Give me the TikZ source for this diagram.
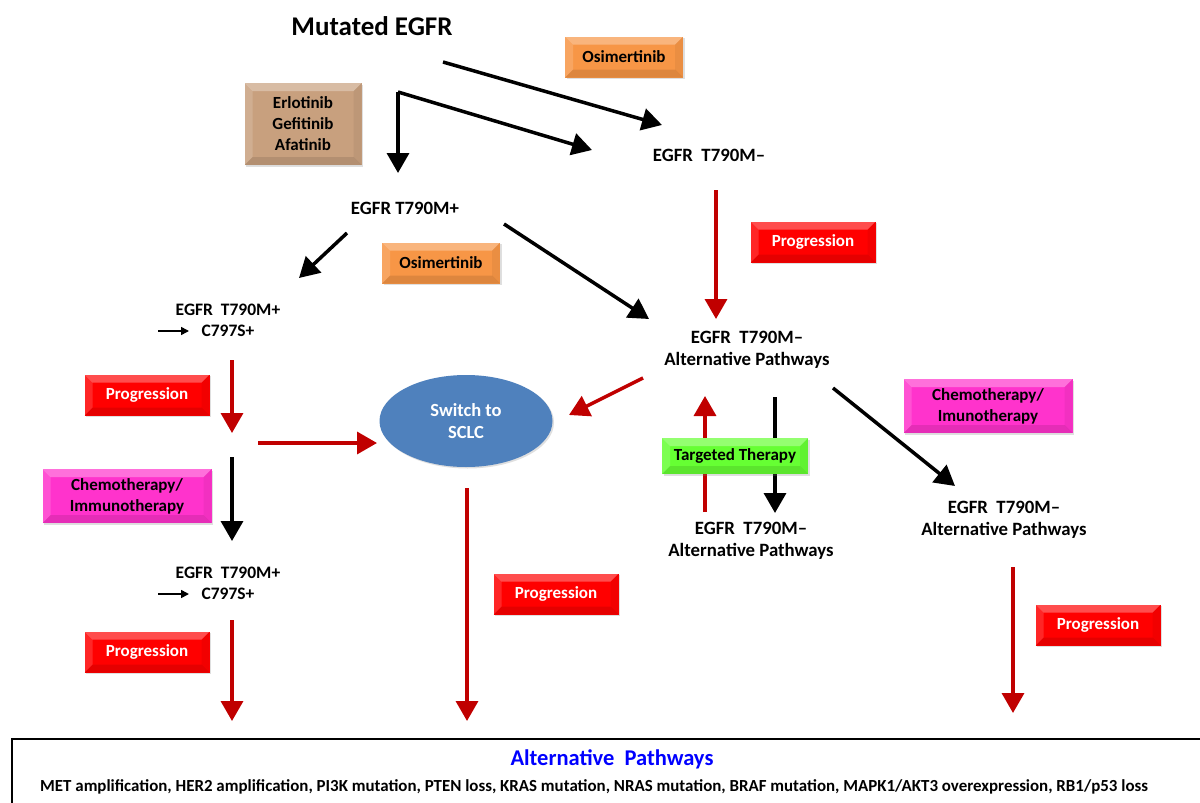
\documentclass[tikz,border=0pt]{standalone}
\usepackage{fontspec}
\setmainfont{Carlito}
\usetikzlibrary{arrows.meta,shapes.geometric,shadows}
\definecolor{arred}{HTML}{C00000}
\definecolor{boxred}{HTML}{FF0000}
\definecolor{boxorange}{HTML}{F79646}
\definecolor{boxtan}{HTML}{C8A07E}
\definecolor{boxmag}{HTML}{FF33CC}
\definecolor{boxgreen}{HTML}{66FF33}
\definecolor{sclc}{HTML}{4F81BD}
\tikzset{
  lbl/.style={font=\bfseries\fontsize{18.8}{22}\selectfont, align=center, inner sep=0pt},
  lbls/.style={font=\bfseries\fontsize{17.5}{21}\selectfont, align=center, inner sep=0pt},
  bevelfx/.style={path picture={
    \path (path picture bounding box.north west) coordinate (pNW)
          (path picture bounding box.north east) coordinate (pNE)
          (path picture bounding box.south west) coordinate (pSW)
          (path picture bounding box.south east) coordinate (pSE);
    \fill[white,opacity=.3] (pNW) -- (pNE) -- ([xshift=-8pt,yshift=-8pt]pNE) -- ([xshift=8pt,yshift=-8pt]pNW) -- cycle;
    \fill[white,opacity=.15] (pNW) -- ([xshift=8pt,yshift=-8pt]pNW) -- ([xshift=8pt,yshift=8pt]pSW) -- (pSW) -- cycle;
    \fill[black,opacity=.1] (pSW) -- ([xshift=8pt,yshift=8pt]pSW) -- ([xshift=-8pt,yshift=8pt]pSE) -- (pSE) -- cycle;
    \fill[black,opacity=.05] (pNE) -- (pSE) -- ([xshift=-8pt,yshift=8pt]pSE) -- ([xshift=-8pt,yshift=-8pt]pNE) -- cycle;
  }},
  bevel/.style={minimum height=41pt, inner sep=2pt, align=center, bevelfx,
     font=\bfseries\fontsize{17}{21}\selectfont, drop shadow={shadow xshift=1.5pt, shadow yshift=-1.5pt, opacity=0.25}},
  progbox/.style={bevel, minimum width=125pt, fill=boxred, text=white},
  osibox/.style={bevel, minimum width=118pt, fill=boxorange, text=black},
  chemobox/.style={bevel, minimum width=169pt, minimum height=54pt, fill=boxmag, text=black},
  blk/.style={line width=3.5pt, -{Triangle[length=20pt,width=22pt]}},
  redarr/.style={draw=arred, line width=3.5pt, -{Triangle[length=20pt,width=22pt]}, color=arred},
  small/.style={line width=1.6pt, -{Triangle[length=8pt,width=8pt]}},
}
\begin{document}
\begin{tikzpicture}[x=1pt,y=-1pt]
\useasboundingbox (0,0) rectangle (1200,803);
\fill[white] (0,0) rectangle (1200,803);

% Top
\node[lbl, font=\bfseries\fontsize{27}{31}\selectfont] (mut) at (372,26) {Mutated EGFR};
\node[osibox] (osi1) at (624,57) {Osimertinib};
\node[bevel, minimum width=117pt, minimum height=82pt, fill=boxtan, text=black] (erl) at (303,124) {Erlotinib\\Gefitinib\\Afatinib};
\node[lbl] (tm1) at (709,155) {EGFR\ \ T790M–};
\node[lbl] (tp1) at (405,208) {EGFR T790M+};

\coordinate (a1s) at (443,62);
\coordinate (a1e) at (662,125);
\draw[blk] (a1s) -- (a1e);
\coordinate (corner) at (398,92);
\coordinate (a2e) at (398,173);
\coordinate (a3e) at (592,150);
\draw[blk] (corner) -- (a2e);
\draw[blk] (corner) -- (a3e);

% Right of top
\coordinate (r1s) at (716,190);
\coordinate (r1e) at (716,319);
\draw[redarr] (r1s) -- (r1e);
\node[progbox] (prog1) at (813,242) {Progression};

\node[osibox] (osi2) at (441,263) {Osimertinib};
\coordinate (a4s) at (347,233);
\coordinate (a4e) at (299,278);
\draw[blk] (a4s) -- (a4e);
\coordinate (a5s) at (504,224);
\coordinate (a5e) at (649,319);
\draw[blk] (a5s) -- (a5e);

% Left column
\node[lbls] (c1) at (228,320) {EGFR\ \ T790M+\\C797S+};
\coordinate (s1s) at (158,331);
\coordinate (s1e) at (189,331);
\draw[small] (s1s) -- (s1e);

\node[lbl] (alt1) at (747,350) {EGFR\ \ T790M–\\Alternative Pathways};

\coordinate (r2s) at (232,360);
\coordinate (r2e) at (232,433);
\draw[redarr] (r2s) -- (r2e);
\node[progbox] (prog2) at (147,395) {Progression};

\node[ellipse, minimum width=173pt, minimum height=92pt, inner sep=0pt, fill=sclc, drop shadow={shadow xshift=1.5pt, shadow yshift=-1.5pt, opacity=0.25}] (sclcn) at (466,421) {};
\node[text=white, font=\bfseries\fontsize{18.5}{22}\selectfont, align=center, inner sep=0pt] (sclct) at (sclcn.center) {Switch to\\SCLC};

\coordinate (r3s) at (258,443);
\coordinate (r3e) at (377,443);
\draw[redarr] (r3s) -- (r3e);
\coordinate (r4s) at (643,378);
\coordinate (r4e) at (569,415);
\draw[redarr] (r4s) -- (r4e);

\coordinate (b1s) at (232,457);
\coordinate (b1e) at (232,541);
\draw[blk] (b1s) -- (b1e);
\node[chemobox] (chemo1) at (127,496) {Chemotherapy/\\Immunotherapy};

\node[lbls] (c2) at (228,583) {EGFR\ \ T790M+\\C797S+};
\coordinate (s2s) at (158,594);
\coordinate (s2e) at (189,594);
\draw[small] (s2s) -- (s2e);

\coordinate (r5s) at (232,620);
\coordinate (r5e) at (232,721);
\draw[redarr] (r5s) -- (r5e);
\node[progbox] (prog3) at (147,652) {Progression};

\coordinate (r6s) at (467,488);
\coordinate (r6e) at (467,721);
\draw[redarr] (r6s) -- (r6e);
\node[progbox] (prog4) at (556,594) {Progression};

% Middle right
\coordinate (r7s) at (705,512);
\coordinate (r7e) at (705,396);
\draw[redarr] (r7s) -- (r7e);
\coordinate (b2s) at (775,397);
\coordinate (b2e) at (775,513);
\draw[blk] (b2s) -- (b2e);
\node[bevel, minimum width=146pt, minimum height=36pt, fill=boxgreen, text=black] (tt) at (735,456) {Targeted Therapy};
\node[lbl] (alt2) at (751,541) {EGFR\ \ T790M–\\Alternative Pathways};

\coordinate (b3s) at (833,388);
\coordinate (b3e) at (955,486);
\draw[blk] (b3s) -- (b3e);
\node[chemobox] (chemo2) at (988,406) {Chemotherapy/\\Imunotherapy};
\node[lbl] (alt3) at (1004,520) {EGFR\ \ T790M–\\Alternative Pathways};

\coordinate (r8s) at (1013,567);
\coordinate (r8e) at (1013,713);
\draw[redarr] (r8s) -- (r8e);
\node[progbox] (prog5) at (1098,625) {Progression};

% Bottom box
\draw[line width=2.5pt] (12,808) -- (12,739) -- (1210,739);
\node[inner sep=0pt, text=blue, font=\bfseries\fontsize{22.5}{26}\selectfont] (alttitle) at (612,759) {Alternative\ \ Pathways};
\node[inner sep=0pt, anchor=west, font=\bfseries\fontsize{16.9}{20}\selectfont] (altlist) at (40,787) {MET amplification, HER2 amplification, PI3K mutation, PTEN loss, KRAS mutation, NRAS mutation, BRAF mutation, MAPK1/AKT3 overexpression, RB1/p53 loss};
\end{tikzpicture}
\end{document}
